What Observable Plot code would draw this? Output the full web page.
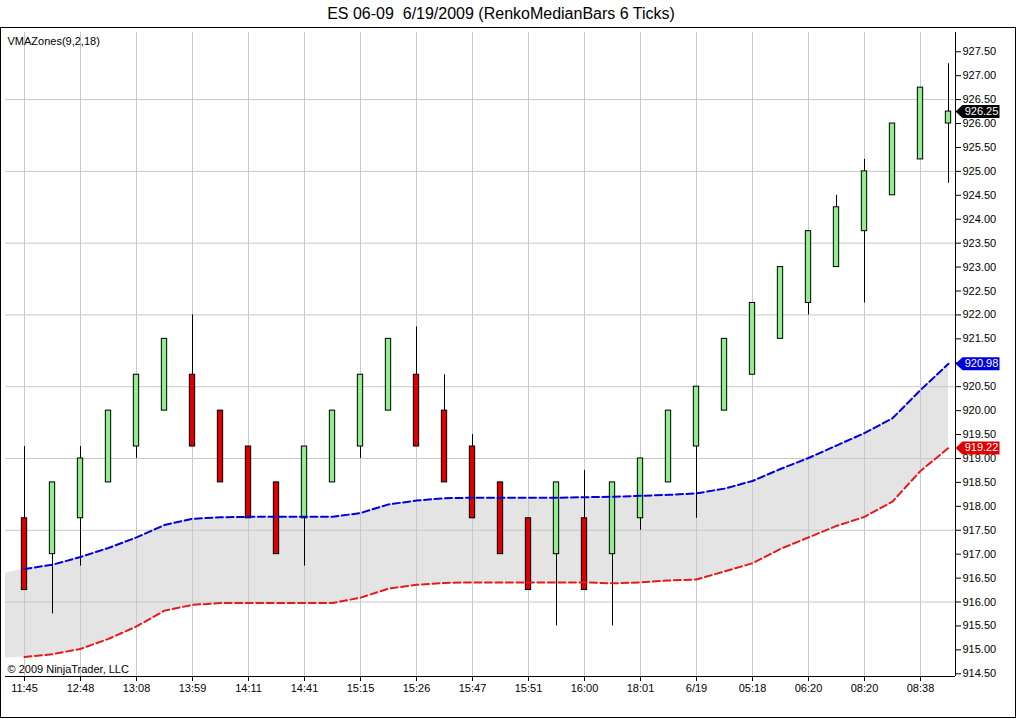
<!DOCTYPE html>
<html><head><meta charset="utf-8">
<script src="https://cdn.jsdelivr.net/npm/d3@7"></script>
<script src="https://cdn.jsdelivr.net/npm/@observablehq/plot@0.6"></script>
<style>
body{margin:0;background:#fff;font-family:"Liberation Sans",Arial,sans-serif;}
#title{position:absolute;left:0;top:5px;width:1002px;text-align:center;font-size:16px;line-height:18px;white-space:pre;color:#000}
#frame{position:absolute;left:0;top:27px;width:1014px;height:689px;border:1px solid #000;}
#frame svg{display:block}
</style></head><body>
<div id="title">ES 06-09  6/19/2009 (RenkoMedianBars 6 Ticks)</div>
<div id="frame"></div>
<script>
// ---- data ----
const barIdx = d3.range(1, 35);
const opens  = [917.75,917.0,917.75,918.5,919.25,920.0,920.75,920.0,919.25,918.5,917.75,918.5,919.25,920.0,920.75,920.0,919.25,918.5,917.75,917.0,917.75,917.0,917.75,918.5,919.25,920.0,920.75,921.5,922.25,923.0,923.75,924.5,925.25,926.0];
const closes = [916.25,918.5,919.0,920.0,920.75,921.5,919.25,918.5,917.75,917.0,919.25,920.0,920.75,921.5,919.25,918.5,917.75,917.0,916.25,918.5,916.25,918.5,919.0,920.0,920.5,921.5,922.25,923.0,923.75,924.25,925.0,926.0,926.75,926.25];
const highs  = [919.25,918.5,919.25,920.0,920.75,921.5,922.0,920.0,919.25,918.5,919.25,920.0,920.75,921.5,921.75,920.75,919.5,918.5,917.75,918.5,918.75,918.5,919.0,920.0,920.5,921.5,922.25,923.0,923.75,924.5,925.25,926.0,926.75,927.25];
const lows   = [916.25,915.75,916.75,918.5,919.0,920.0,919.25,918.5,917.75,917.0,916.75,918.5,919.0,920.0,919.25,918.5,917.75,917.0,916.25,915.5,916.25,915.5,917.5,918.5,917.75,920.0,920.75,921.5,922.0,923.0,922.25,924.5,925.25,924.75];
// VMA zone bands, index 0 is the bar just before the visible range
const vmaIdx = d3.range(0, 35);
const vmaUpper = [916.56,916.69,916.78,916.94,917.13,917.35,917.61,917.74,917.77,917.78,917.78,917.78,917.78,917.86,918.04,918.12,918.17,918.18,918.18,918.18,918.18,918.19,918.20,918.22,918.24,918.27,918.37,918.53,918.78,919.01,919.27,919.53,919.84,920.43,920.98];
const vmaLower = [914.81,914.85,914.91,915.02,915.23,915.49,915.82,915.94,915.98,915.98,915.98,915.98,915.98,916.09,916.28,916.36,916.40,916.41,916.41,916.41,916.41,916.41,916.39,916.41,916.45,916.47,916.64,916.81,917.11,917.35,917.59,917.78,918.10,918.74,919.22];
const xTickIdx = [1,3,5,7,9,11,13,15,17,19,21,23,25,27,29,31,33];
const xLabels = ["11:45","12:48","13:08","13:59","14:11","14:41","15:15","15:26","15:47","15:51","16:00","18:01","6/19","05:18","06:20","08:20","08:38"];
const yTicks = d3.range(0, 27).map(k => 914.5 + k * 0.5);
const yGrid = [916, 917.5, 919, 920.5, 922, 923.5, 925, 926.5];

// ---- tables ----
const bars = barIdx.map((i, k) => ({i, open: opens[k], close: closes[k], high: highs[k], low: lows[k]}));
const vma = vmaIdx.map((i, k) => ({i, upper: vmaUpper[k], lower: vmaLower[k]}));
const vmaVis = vma.filter(d => d.i >= 1);
const last = bars[bars.length - 1];
const fmt = d3.format(".2f");
const xDomain = [1 - 19/28, 34 + 7/28];
const yDomain = [914.5 - 2.7/47.85, 914.5 - 2.7/47.85 + 644/47.85];
const badges = [
  {v: last.close, color: "#000000"},
  {v: vmaUpper[vmaUpper.length - 1], color: "#0000dd"},
  {v: vmaLower[vmaLower.length - 1], color: "#e00000"}
];
// tick labels fully hidden behind a value badge are not drawn
const yTickFormat = v => badges.some(b => Math.abs(b.v - v) < 0.06) ? "" : fmt(v);
const badgeSymbol = {draw(ctx) {
  ctx.moveTo(0, 0); ctx.lineTo(7, -6.5); ctx.lineTo(44, -6.5); ctx.lineTo(44, 6.5); ctx.lineTo(7, 6.5); ctx.closePath();
}};

const chart = Plot.plot({
  width: 1014, height: 689,
  marginLeft: 4, marginRight: 60, marginTop: 4, marginBottom: 41,
  style: {fontFamily: "'Liberation Sans', Arial, sans-serif", fontSize: "11px", background: "transparent", overflow: "visible"},
  x: {type: "linear", domain: xDomain, axis: null},
  y: {domain: yDomain, axis: null},
  color: {type: "identity"},
  marks: [
    Plot.areaY(vma, {x: "i", y1: "lower", y2: "upper", fill: "#e4e4e4", clip: true}),
    Plot.ruleX(xTickIdx, {stroke: "#c8c8c8"}),
    Plot.ruleY(yGrid, {stroke: "#c8c8c8"}),
    Plot.ruleX(bars, {x: "i", y1: "low", y2: "high", stroke: "#000", strokeWidth: 1}),
    Plot.rect(bars, {x1: d => d.i - 0.095, x2: d => d.i + 0.095, y1: "open", y2: "close",
      fill: d => d.close >= d.open ? "#90ee90" : "#dd0000", stroke: "#000", strokeWidth: 1}),
    Plot.line(vmaVis, {x: "i", y: "upper", stroke: "#0000dd", strokeWidth: 2, strokeDasharray: "7,3.5"}),
    Plot.line(vmaVis, {x: "i", y: "lower", stroke: "#e51a1a", strokeWidth: 2, strokeDasharray: "7,3.5"}),
    Plot.ruleX([xDomain[1]], {stroke: "#000"}),
    Plot.ruleY([yDomain[0]], {stroke: "#000"}),
    Plot.axisY({anchor: "right", ticks: yTicks, tickFormat: yTickFormat, tickSize: 5, tickPadding: 2, fontSize: 11, label: null}),
    Plot.axisX({anchor: "bottom", ticks: xTickIdx, tickFormat: i => xLabels[(i - 1) / 2], tickSize: 5, tickPadding: 3, fontSize: 11, label: null}),
    Plot.dot(badges, {x: () => xDomain[1], y: "v", symbol: badgeSymbol, r: 4, fill: "color", stroke: null}),
    Plot.text(badges, {x: () => xDomain[1], y: "v", text: d => fmt(d.v), dx: 26, fill: "#fff", fontSize: 11, textAnchor: "middle"}),
    Plot.text(["VMAZones(9,2,18)"], {frameAnchor: "top-left", dx: 2, dy: 5, fontSize: 11, fill: "#000"}),
    Plot.text(["\u00a9 2009 NinjaTrader, LLC"], {frameAnchor: "bottom-left", lineAnchor: "bottom", dx: 2, dy: -4, fontSize: 11, fill: "#000"})
  ]
});
document.getElementById("frame").appendChild(chart);
</script>
</body></html>
